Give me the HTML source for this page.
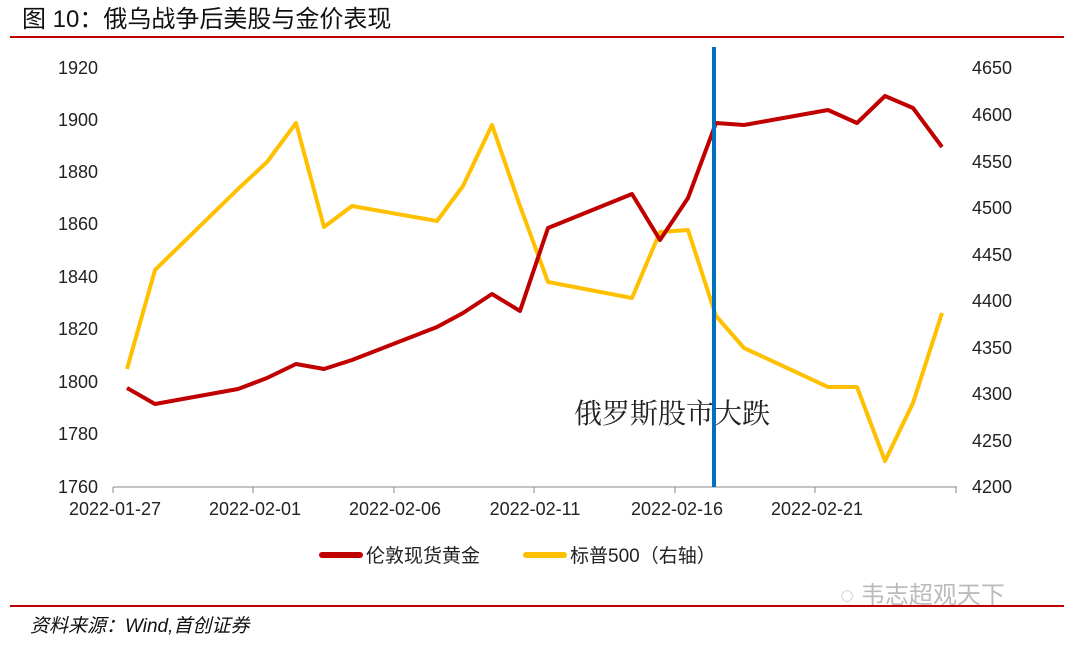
<!DOCTYPE html>
<html><head><meta charset="utf-8"><style>
body{margin:0;width:1080px;height:642px;background:#fff;overflow:hidden}
</style></head><body>
<svg width="1080" height="642" xmlns="http://www.w3.org/2000/svg" font-family="'Liberation Sans','Noto Sans CJK SC',sans-serif">
<text x="22" y="27" font-size="24" fill="#111">图 10：俄乌战争后美股与金价表现</text>
<line x1="10" y1="37" x2="1064" y2="37" stroke="#c00000" stroke-width="2"/>
<g font-size="18" fill="#222">
<g text-anchor="end">
<text x="98" y="74">1920</text><text x="98" y="126">1900</text><text x="98" y="178">1880</text><text x="98" y="230">1860</text><text x="98" y="283">1840</text><text x="98" y="335">1820</text><text x="98" y="388">1800</text><text x="98" y="440">1780</text><text x="98" y="493">1760</text>
</g>
<g>
<text x="972" y="74">4650</text><text x="972" y="121">4600</text><text x="972" y="168">4550</text><text x="972" y="214">4500</text><text x="972" y="261">4450</text><text x="972" y="307">4400</text><text x="972" y="354">4350</text><text x="972" y="400">4300</text><text x="972" y="447">4250</text><text x="972" y="493">4200</text>
</g>
<g text-anchor="middle">
<text x="115" y="515">2022-01-27</text><text x="255" y="515">2022-02-01</text><text x="395" y="515">2022-02-06</text><text x="535" y="515">2022-02-11</text><text x="677" y="515">2022-02-16</text><text x="817" y="515">2022-02-21</text>
</g>
</g>
<line x1="113" y1="487" x2="957" y2="487" stroke="#888" stroke-width="1"/>
<g stroke="#888"><line x1="113" y1="487" x2="113" y2="493"/><line x1="253" y1="487" x2="253" y2="493"/><line x1="394" y1="487" x2="394" y2="493"/><line x1="534" y1="487" x2="534" y2="493"/><line x1="675" y1="487" x2="675" y2="493"/><line x1="815" y1="487" x2="815" y2="493"/><line x1="956" y1="487" x2="956" y2="493"/></g>
<polyline fill="none" stroke="#ffc000" stroke-width="4" stroke-linejoin="round" points="127,369 155,270 238,189 267,162 296,123 324,227 352,206 437,221 463,186 492,125 520,206 548,282 632,298 660,232 688,230 716,316 744,348 828,387 857,387 885,461 913,403 942,313"/>
<polyline fill="none" stroke="#c00000" stroke-width="4" stroke-linejoin="round" points="127,388 155,404 238,389 267,378 296,364 324,369 352,360 437,327 463,313 492,294 520,311 548,228 632,194 660,240 688,198 716,123 744,125 828,110 857,123 885,96 913,108 942,147"/>
<line x1="714" y1="47" x2="714" y2="487" stroke="#0070c0" stroke-width="4"/>
<text x="574" y="423" font-size="28" fill="#222" font-family="'Liberation Serif','Noto Serif CJK SC',serif">俄罗斯股市大跌</text>
<line x1="322" y1="555" x2="360" y2="555" stroke="#c00000" stroke-width="6" stroke-linecap="round"/>
<text x="366" y="562" font-size="19" fill="#222">伦敦现货黄金</text>
<line x1="526" y1="555" x2="564" y2="555" stroke="#ffc000" stroke-width="6" stroke-linecap="round"/>
<text x="570" y="562" font-size="19" fill="#222">标普500（右轴）</text>
<text x="840" y="603" font-size="24" fill="#bbb">◌ 韦志超观天下</text>
<line x1="10" y1="606" x2="1064" y2="606" stroke="#c00000" stroke-width="2"/>
<text x="30" y="632" font-size="19" fill="#111" font-style="italic">资料来源：Wind,首创证券</text>
</svg>
</body></html>
